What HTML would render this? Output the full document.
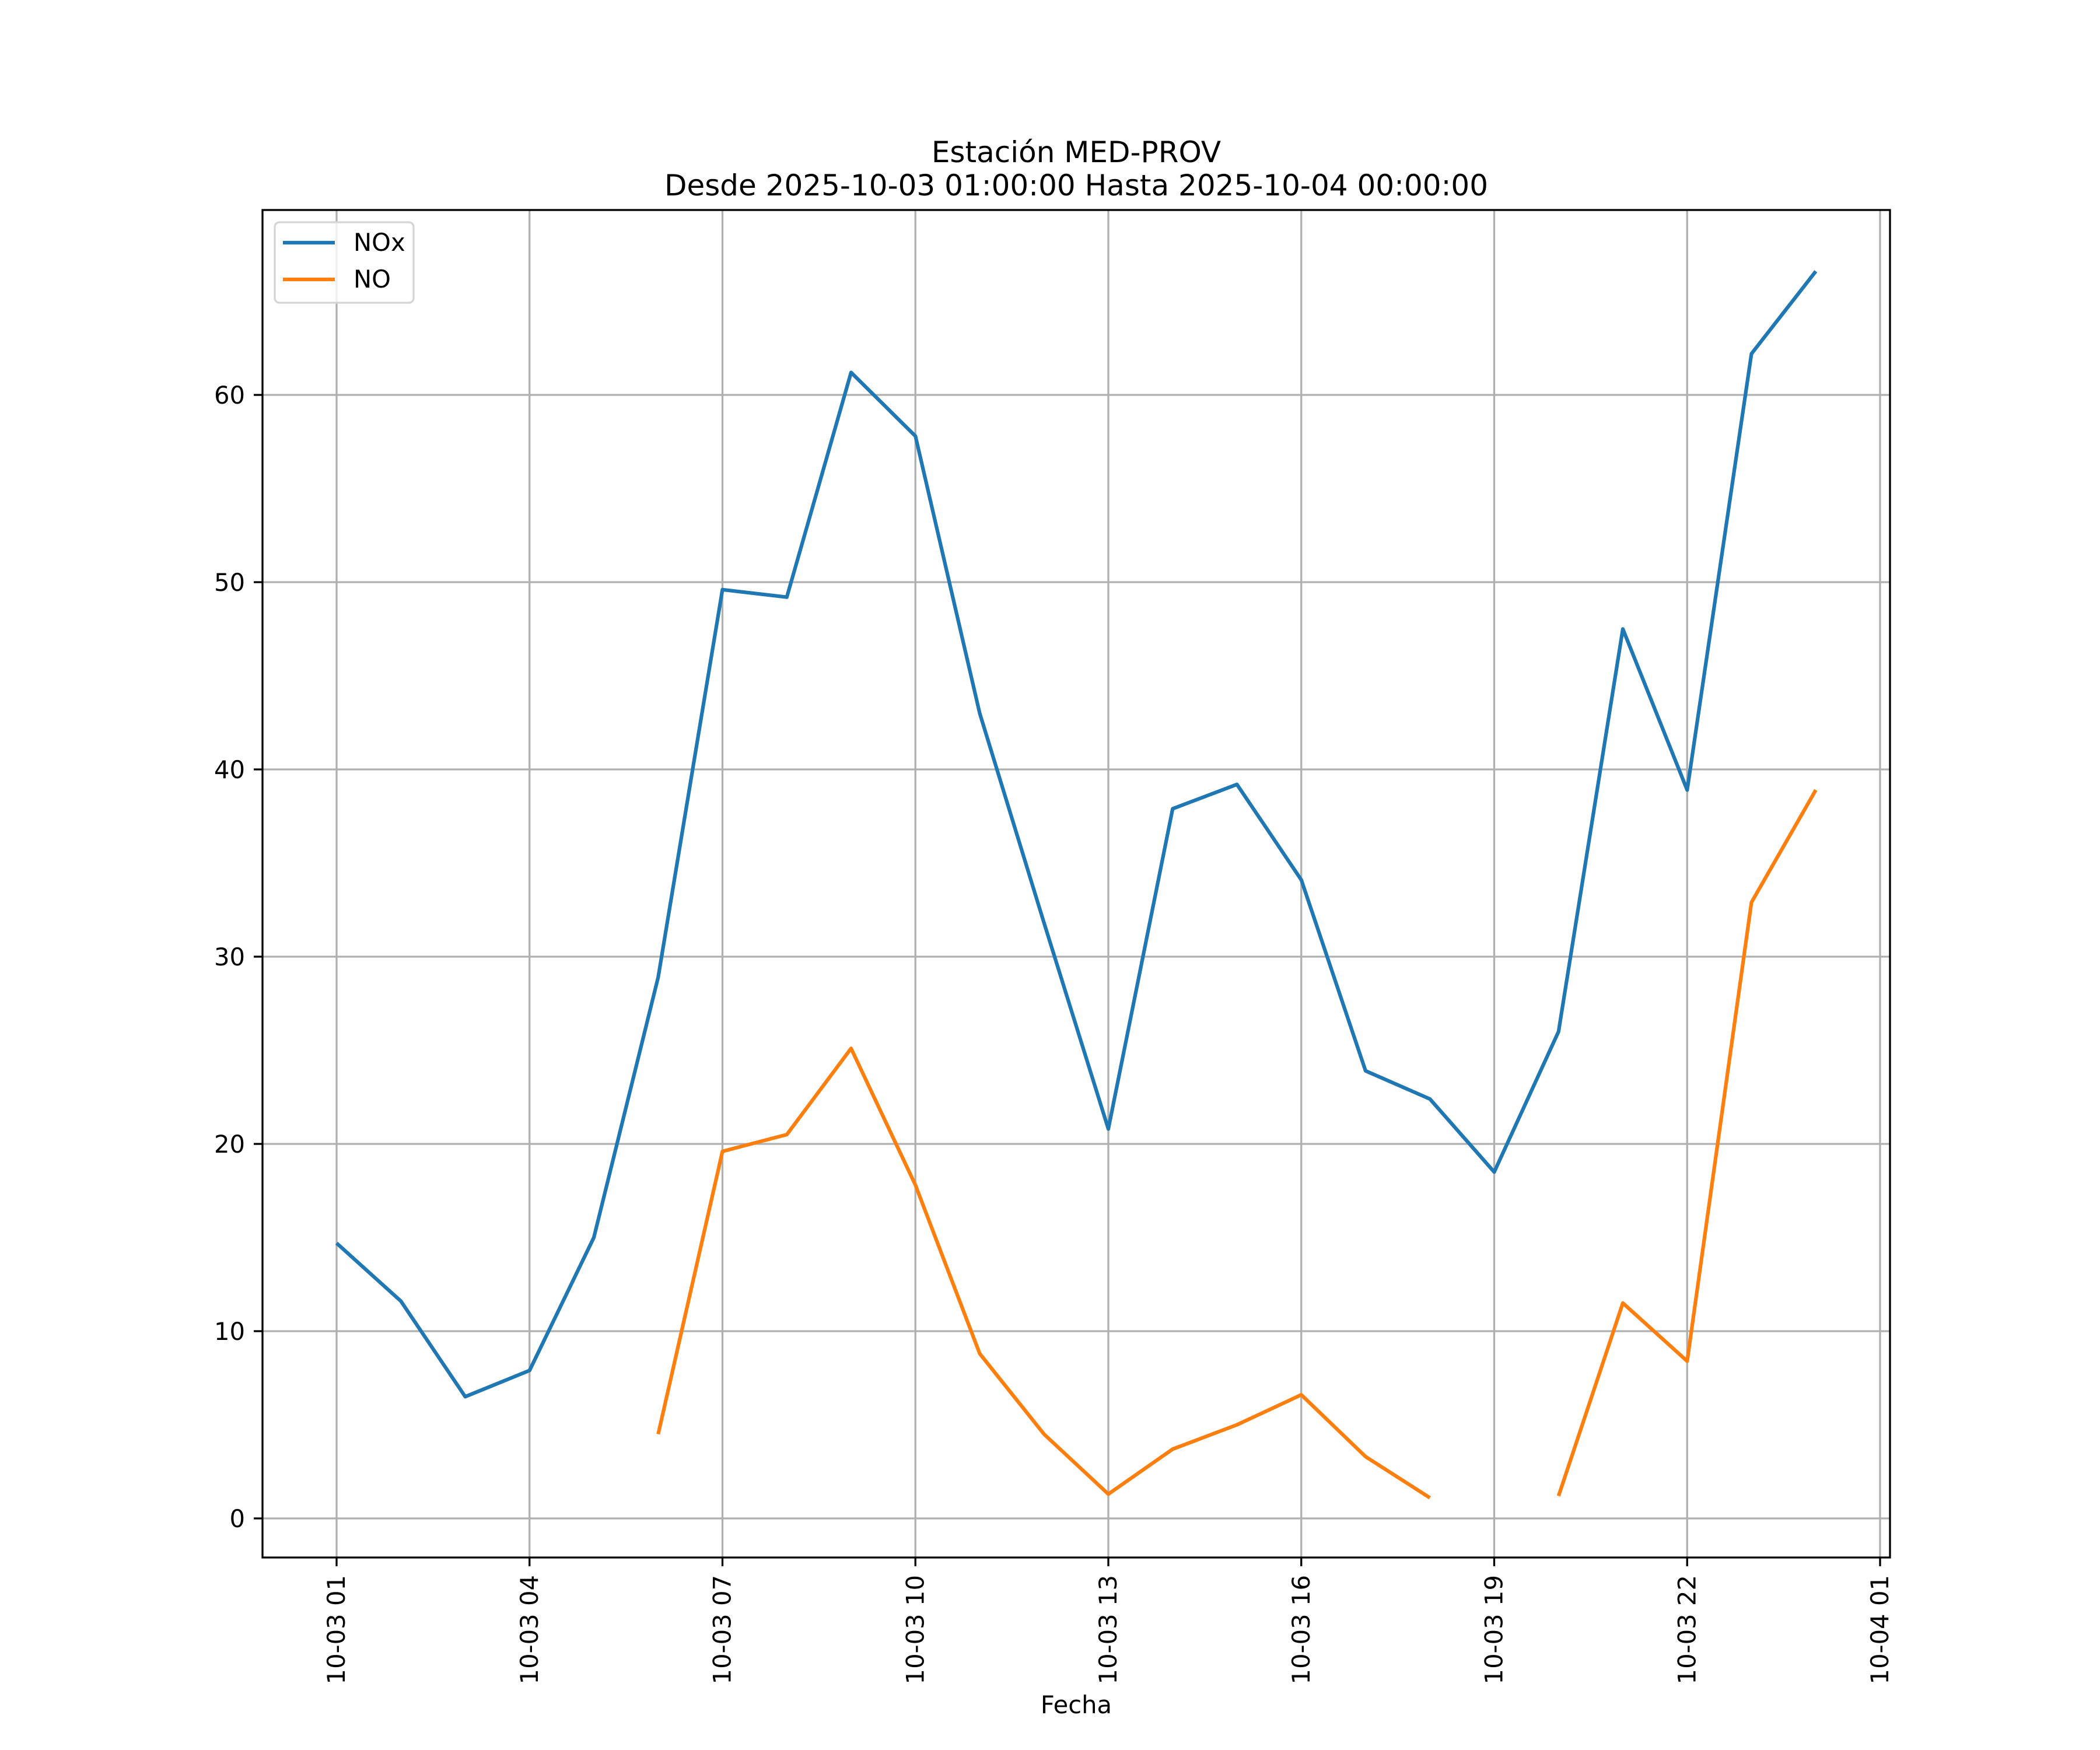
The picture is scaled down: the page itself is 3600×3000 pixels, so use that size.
<!DOCTYPE html>
<html><head><meta charset="utf-8"><style>
html,body{margin:0;padding:0;background:#fff;}
svg{display:block;font-family:"DejaVu Sans","Liberation Sans",sans-serif;}
</style></head><body>
<svg id="chart" width="3600" height="3000" viewBox="0 0 3600 3000" xmlns="http://www.w3.org/2000/svg">
<rect width="3600" height="3000" fill="#fff"/>
<g id="grid"></g>
<g id="series"></g>
<rect x="450" y="360" width="2790" height="2310" fill="none" stroke="#000" stroke-width="3.3"/>
<g id="ticks" font-size="41.7"></g>
<text x="1845" y="278" font-size="50" text-anchor="middle">Estación MED-PROV</text>
<text x="1845" y="335" font-size="50" text-anchor="middle">Desde 2025-10-03 01:00:00 Hasta 2025-10-04 00:00:00</text>
<text x="1845" y="2937" font-size="41.7" text-anchor="middle">Fecha</text>
<g>
<rect x="471" y="381" width="238" height="138" rx="8" fill="#fff" fill-opacity="0.8" stroke="#d5d5d5" stroke-width="3.3"/>
<g><line x1="485" y1="416" x2="574" y2="416" stroke="#1f77b4" stroke-width="6.25"/><text x="606" y="430" font-size="41.7">NOx</text></g>
<g><line x1="485" y1="479" x2="574" y2="479" stroke="#ff7f0e" stroke-width="6.25"/><text x="606" y="493" font-size="41.7">NO</text></g>
</g>
</svg>
<script>
const hours = [1,2,3,4,5,6,7,8,9,10,11,12,13,14,15,16,17,18,19,20,21,22,23,24];
const noxValues = [14.7,11.6,6.5,7.9,15.0,28.9,49.6,49.2,61.2,57.8,43.0,31.8,20.8,37.9,39.2,34.1,23.9,22.4,18.5,26.0,47.5,38.9,62.2,66.6];
const noValues = [null,null,null,null,null,4.5,19.6,20.5,25.1,17.8,8.8,4.5,1.3,3.7,5.0,6.6,3.3,1.1,null,1.2,11.5,8.4,32.9,38.9];
const xTickHours = [1,4,7,10,13,16,19,22,25];
const xTickLabels = ["10-03 01","10-03 04","10-03 07","10-03 10","10-03 13","10-03 16","10-03 19","10-03 22","10-04 01"];
const yTicks = [0,10,20,30,40,50,60];

const NS="http://www.w3.org/2000/svg";
function xs(h){return 577+(h-1)*(3223-577)/24;}
function ys(v){return 2603-v*(2603-677)/60;}
function mk(tag,attrs,parent){const e=document.createElementNS(NS,tag);for(const k in attrs)e.setAttribute(k,attrs[k]);parent.appendChild(e);return e;}
const grid=document.getElementById('grid'),ticks=document.getElementById('ticks'),series=document.getElementById('series');
xTickHours.forEach((h,i)=>{
  const x=xs(h);
  const g=mk('line',{x1:x,x2:x,y1:360,y2:2670,stroke:'#b0b0b0','stroke-width':3.3},grid);
  
  
  mk('line',{x1:x,x2:x,y1:2670,y2:2685,stroke:'#000','stroke-width':3.3},ticks);
  const t=mk('text',{x:0,y:0,transform:`translate(${x+14},2700) rotate(-90)`,'text-anchor':'end'},ticks);
  t.textContent=xTickLabels[i];
  
  
});
yTicks.forEach(v=>{
  const y=ys(v);
  const g=mk('line',{x1:450,x2:3240,y1:y,y2:y,stroke:'#b0b0b0','stroke-width':3.3},grid);
  
  
  mk('line',{x1:435,x2:450,y1:y,y2:y,stroke:'#000','stroke-width':3.3},ticks);
  const t=mk('text',{x:420,y:y+15,'text-anchor':'end'},ticks);
  t.textContent=String(v);
  
  
});
function draw(vals,color,name){
  let segs=[],cur=[];
  vals.forEach((v,i)=>{if(v===null){if(cur.length)segs.push(cur);cur=[];}else cur.push(xs(hours[i]).toFixed(1)+','+ys(v).toFixed(1));});
  if(cur.length)segs.push(cur);
  segs.forEach(s=>{
    const p=mk('polyline',{points:s.join(' '),fill:'none',stroke:color,'stroke-width':6.25,'stroke-linejoin':'round'},series);
    
    
  });
}
draw(noxValues,'#1f77b4','nox-line');
draw(noValues,'#ff7f0e','no-line');
</script>
</body></html>
